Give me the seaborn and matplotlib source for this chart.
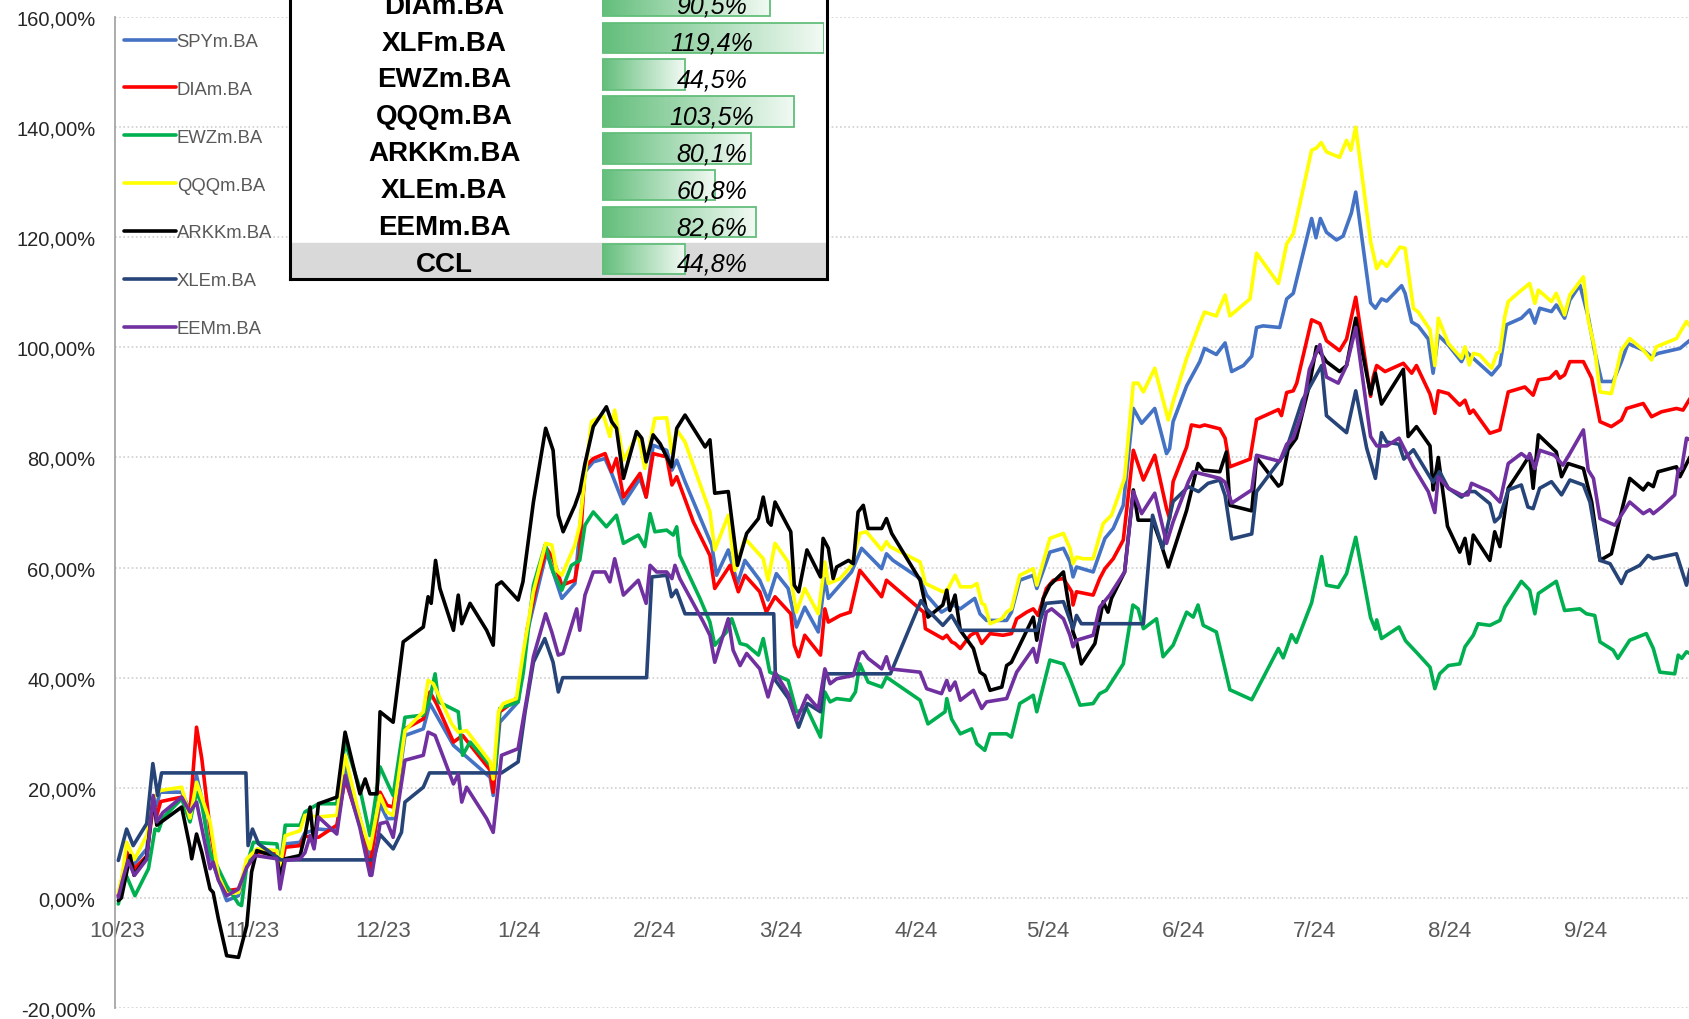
import numpy as np
import pandas as pd
import seaborn as sns
import matplotlib
matplotlib.use("Agg")
import matplotlib.pyplot as plt
import matplotlib.dates as mdates
from matplotlib.lines import Line2D
from matplotlib.colors import LinearSegmentedColormap
from matplotlib.ticker import FuncFormatter, MultipleLocator
from matplotlib.transforms import blended_transform_factory

# rendimiento acumulado (%) desde el 1/10/2023, dias desde esa fecha
start = pd.Timestamp("2023-10-01")

spy_days = [0.3, 1.2, 2.2, 3.7, 6.8, 8.3, 9.1, 9.8, 14.8, 16.7,
            18.2, 19.4, 21.3, 23.2, 25.1, 27.8, 29.7, 32, 36.6, 37.3,
            38.5, 41.9, 43, 46.1, 50.3, 52.2, 55.6, 57.9, 60.2, 61.8,
            63.2, 65.9, 70.1, 71.6, 77, 85.4, 86.1, 87.6, 91.8, 93.9,
            98.3, 101.8, 104.8, 107.1, 109, 111.7, 113.2, 115.9, 119.7, 121.1,
            122.7, 125.8, 127, 128.1, 130, 136.1, 137.2, 139.9, 142, 143.7,
            147.1, 149, 150.9, 153.6, 155.5, 157.4, 160.5, 162, 162.8, 168.1,
            170.4, 175, 176.1, 177.6, 183.8, 185.3, 188.7, 191.4, 193, 196.3,
            197.5, 199, 203.6, 204.7, 206.6, 209.7, 210.5, 213.5, 216.6, 218.1,
            218.8, 219.6, 223.4, 226.1, 228, 230.3, 232.6, 234.5, 237.5, 240.2,
            240.9, 241.7, 244.8, 247.8, 248.9, 251.6, 253.6, 255.1, 257.8, 259.7,
            260.8, 262.3, 266.1, 267.7, 269.2, 273.4, 274.4, 275.4, 276.8, 279.1,
            280.6, 282.5, 283.5, 286.9, 288, 289.4, 290.6, 294, 294.8, 296.3,
            297.8, 300.1, 301.2, 302.4, 304.7, 307.7, 308.8, 310.4, 314.6, 316.5,
            318, 321.4, 323.3, 324.5, 325.6, 328.3, 329.4, 331.3, 332.5, 334.8,
            336.7, 338.2, 339.8, 342.4, 344.3, 345.8, 349.3, 351.2, 352.7, 357.7,
            360]
spy_vals = [0.4, 3.6, 8.3, 5.9, 8.9, 17.4, 16.8, 19.2, 19.2, 15.9,
            22.2, 18, 7.7, 3.5, -0.5, 0.4, 5.9, 8.6, 8, 4.7,
            9.8, 10.1, 11.8, 12.5, 12.2, 24, 14.4, 7.1, 17, 14.4,
            14.4, 29.5, 30.7, 35.3, 27.7, 21.9, 18.6, 31.9, 35.6, 48.3,
            62.8, 54.4, 57.1, 77.4, 79.2, 79.8, 77.1, 71.6, 76.2, 72.8,
            82.2, 81.3, 77.7, 79.5, 75.6, 64.1, 58.6, 63.2, 57.1, 61.3,
            57.7, 54.1, 58.9, 56.2, 49.2, 52.8, 48.3, 58, 54.4, 59.2,
            63.5, 59.8, 62.5, 61.3, 58, 55, 51.9, 53.2, 52.5, 54.4,
            51.6, 50.4, 50.4, 51.9, 57.7, 58.6, 56.2, 62.8, 63.5, 61,
            58.3, 60.1, 59.2, 65.3, 67.1, 71.3, 88.9, 86.2, 88.9, 80.7,
            81.6, 86.5, 93, 97.4, 99.8, 98.7, 100.8, 95.6, 96.7, 98.4,
            103.6, 103.9, 103.6, 108.8, 109.8, 123.4, 119.9, 123.4, 120.9, 119.5,
            120.2, 124.4, 128.2, 108.1, 107.1, 108.8, 108.4, 111.2, 109.8, 104.6,
            103.9, 101.5, 95.3, 102.2, 100.4, 97.4, 99.2, 98, 95, 96.8,
            104.1, 105.3, 106.8, 104.4, 107.1, 106.5, 107.7, 105.3, 108.6, 111.3,
            105.6, 99.2, 93.8, 93.8, 97.4, 100.7, 99.5, 98.3, 98.9, 99.8,
            101.3]

dia_days = [0.3, 1.2, 2.2, 4, 6.8, 8.3, 9.1, 10, 14.8, 16.7,
            18.2, 19.4, 21.3, 23.2, 25.1, 27.8, 29.7, 32, 36.6, 37.3,
            38.5, 41.9, 43, 46.1, 50.3, 52.2, 55.6, 57.9, 60.2, 61.8,
            63.2, 65.9, 70.1, 71.6, 73.1, 77, 79.1, 85.4, 86.1, 87.6,
            90.7, 91.8, 93.9, 96, 98.3, 99.8, 101.8, 104.8, 105.9, 107.1,
            109, 111.7, 113.2, 114.3, 115.9, 119.7, 121.1, 122.7, 125.8, 127,
            128.1, 131.9, 135.7, 136.8, 140.3, 142.2, 143.7, 147.1, 148.6, 150.6,
            154.2, 155, 156, 157.4, 161, 162, 162.8, 165.5, 167.8, 170,
            175, 176.1, 184.6, 185, 189, 189.9, 191, 191.8, 193, 195.3,
            196.7, 197.9, 199.8, 202.8, 204.7, 205.9, 208.2, 209.7, 210.8, 212.7,
            214.3, 216.6, 218.5, 218.8, 219.6, 223.4, 224.9, 226.1, 228, 230.3,
            231.4, 232.6, 234.9, 237.5, 240.2, 240.9, 241.7, 244.8, 245.9, 247.8,
            248.9, 252.4, 253.6, 254.7, 259.3, 260.8, 265.8, 266.5, 267.7, 269.2,
            270, 273.4, 275.3, 276.8, 279.8, 281.4, 283.5, 286.9, 287.5, 288.3,
            290.2, 294.4, 296.3, 297.4, 300.5, 301.6, 302.4, 304.7, 307.3, 308.5,
            309.6, 310.4, 314.2, 316.5, 318.4, 322.2, 324.1, 325.3, 327.9, 329.4,
            330.2, 331.3, 332.5, 335.6, 337.5, 339.4, 342, 344.3, 345.5, 349.3,
            351.2, 353.5, 356.9, 358.4, 360]
dia_vals = [0.4, 3.6, 8.3, 5.3, 7.6, 16.8, 15, 17.5, 18.3, 15.6,
            31, 25.3, 12.5, 3.5, 1.3, 1.6, 5.6, 8.3, 8, 4.7,
            9.2, 9.5, 11.2, 11, 13.2, 21.6, 13.2, 5.3, 19.2, 16.8,
            16.5, 30.7, 32.5, 37.4, 35.3, 28.3, 29.5, 23.2, 19.2, 33.8,
            35.6, 36.8, 48.9, 56.8, 63.5, 61.6, 56.8, 57.7, 62.8, 78.3,
            79.8, 80.7, 77.4, 79.8, 72.8, 77.1, 72.8, 80.7, 80.1, 75,
            76.5, 68.3, 62.2, 56.2, 60.4, 55.6, 58.6, 55.6, 51.9, 54.7,
            51.6, 45.9, 43.8, 47.7, 44.1, 52.5, 50.1, 51.3, 51.9, 59.5,
            54.7, 57.7, 51.9, 48.9, 47.1, 47.7, 46.5, 46.2, 45.3, 47.7,
            48.3, 46.2, 48, 47.7, 48, 50.7, 51.9, 52.5, 51.3, 56.2,
            57.7, 58, 55.6, 53.2, 55.6, 55, 58, 59.8, 61.6, 65,
            72.8, 81.3, 75.9, 80.4, 70.7, 68.9, 75.6, 81.9, 85.9, 85.6,
            85.9, 85.2, 83.5, 78.3, 79.7, 86.9, 88.7, 87.6, 91.8, 92.1,
            93.5, 105, 104.3, 101.2, 99.4, 101.5, 109.1, 91.1, 94.6, 96.7,
            95.6, 97.1, 95.3, 96.7, 91.5, 88, 92.1, 91.6, 89.5, 90.4,
            88, 88.6, 84.4, 85, 91.9, 92.8, 91.3, 94.1, 94.4, 95.6,
            94.4, 95, 97.4, 97.4, 94.4, 86.5, 85.6, 86.8, 88.9, 89.8,
            87.4, 88.3, 88.9, 88.6, 90.7]

ewz_days = [0.3, 1.9, 4.1, 7.2, 8.7, 9.5, 10.5, 14.8, 16.7, 18.2,
            19.4, 21.3, 22.5, 23.2, 25.1, 27.8, 28.5, 29.7, 31.2, 36.6,
            37.3, 38.5, 41.9, 43, 46.1, 50.3, 52.2, 55.6, 57.9, 60.2,
            61.8, 63.2, 65.9, 70.1, 71.6, 72.8, 73.6, 78.1, 79.1, 80.8,
            85.4, 86.5, 87.6, 91.8, 93, 95.3, 98, 99.8, 101.8, 104,
            105.9, 107.1, 109, 112, 114.3, 115.9, 119.3, 120.8, 122, 123.1,
            125.8, 127.3, 128.1, 128.8, 133.4, 135.7, 136.8, 139.5, 140.7, 142.6,
            144.1, 146.8, 147.9, 149.4, 153.6, 155.5, 157.9, 161, 162, 163.2,
            164.7, 167.8, 169, 170, 171.9, 175, 176.1, 183.8, 185.6, 189.5,
            189.9, 191, 193, 195.6, 196.8, 198.6, 199.8, 203.6, 204.7, 206.6,
            209.7, 210.5, 213.5, 216.6, 218.1, 220.4, 223.4, 224.9, 226.4, 230.3,
            232.5, 233.7, 234.9, 237.9, 239.4, 241.7, 244.8, 246.3, 247.4, 248.6,
            251.6, 254.7, 259.7, 265.8, 266.9, 268.8, 269.9, 273.4, 275.7, 276.8,
            279.5, 281.4, 283.5, 286.9, 288, 288.3, 289.4, 293.4, 294.9, 297.4,
            300.5, 301.6, 302.7, 304.7, 307.3, 308.5, 310.4, 311.5, 314.2, 316.5,
            317.6, 321.4, 323.3, 324.5, 325.3, 329.4, 331.3, 334.8, 336.3, 338.2,
            339.4, 342.4, 343.5, 346.2, 350, 351.6, 353.1, 356.5, 357.3, 358.1,
            359.2, 360]
ewz_vals = [-1.1, 4.5, 0.4, 5.3, 12.5, 12.2, 14.5, 18, 13.8, 19.2,
            17, 8.3, 6.5, 5.3, 2.2, -1.1, -1.4, 5.9, 10.1, 9.8,
            5.3, 13.2, 13.2, 15.6, 17.1, 17.1, 28.3, 19.8, 11.3, 23.8,
            21, 18.6, 32.8, 33.2, 36.2, 40.7, 35.6, 33.8, 25.9, 28.3,
            24.1, 22.8, 34.4, 35.6, 41, 56.8, 64.1, 59.2, 55.9, 60.4,
            61.3, 67.7, 70.1, 67.4, 69.5, 64.4, 65.9, 63.8, 69.8, 66.5,
            66.8, 65.9, 67.4, 62.2, 54.4, 50.1, 45.9, 48.3, 50.7, 46.2,
            45.9, 44.1, 47.1, 41, 39.5, 33.8, 34.4, 29.2, 37.4, 35.6,
            36.2, 35.9, 37.4, 42.5, 39.2, 38.3, 40.1, 35.9, 31.6, 33.8,
            36.2, 32.5, 29.8, 30.7, 28, 26.8, 29.8, 29.8, 29.2, 35.3,
            36.8, 33.8, 43.2, 42.5, 39.8, 35, 35.3, 37.1, 37.7, 42.5,
            53.2, 52.5, 48.9, 50.7, 43.8, 45.9, 51.9, 51, 53.2, 49.5,
            48.3, 37.8, 36, 45.3, 43.6, 47.8, 46.4, 53.6, 62, 56.8,
            56.4, 58.9, 65.5, 50.9, 48.8, 50.5, 47.1, 49.2, 46.7, 44.6,
            41.9, 38, 40.7, 42.2, 42.5, 45.6, 47.7, 49.8, 49.5, 50.4,
            52.8, 57.5, 55.9, 51.6, 55.3, 57.5, 52.2, 52.5, 51.6, 51.3,
            46.5, 45, 43.5, 46.8, 48, 45.3, 41, 40.7, 44.1, 43.5,
            44.7, 44.4]

qqq_days = [0.3, 1.2, 2.2, 4, 6.8, 8.3, 9.8, 14.8, 16.7, 18.2,
            21.3, 23.2, 25.1, 27.8, 29.7, 32, 36.6, 37.3, 38.5, 41.9,
            43, 46.1, 50.3, 52.2, 55.6, 57.9, 60.2, 61.8, 63.2, 65.9,
            70.1, 71.2, 72.4, 76.6, 78.1, 80, 85.4, 86.1, 87.3, 88.4,
            91.4, 93, 95.3, 98.1, 99.5, 100.6, 101.8, 104.8, 105.9, 107.1,
            108.6, 111.3, 112.8, 113.9, 115.9, 119.3, 120.8, 123.1, 125.8, 127,
            128.1, 130, 135.7, 136.8, 139.9, 141.4, 143.7, 147.9, 149, 150.6,
            153.6, 155.5, 157.4, 160.5, 162, 162.8, 165.5, 168.1, 170, 171.5,
            175, 176.1, 176.9, 183.8, 185, 189, 190.1, 191.8, 193, 195.6,
            196.8, 197.9, 198.6, 199.8, 202.5, 203.6, 204.7, 206.6, 209.7, 210.5,
            213.5, 216.6, 218.1, 218.8, 219.6, 221.1, 223.4, 225.7, 227.6, 230.6,
            232.6, 233.7, 234.9, 237.5, 240.6, 241.7, 244.8, 247.8, 248.9, 251.6,
            253.6, 254.7, 259.3, 260.8, 265.8, 267.7, 269.2, 273.4, 274.5, 275.6,
            276.8, 279.8, 281.4, 282.4, 283.5, 286.9, 288.3, 289.4, 290.6, 293.6,
            294.8, 296.7, 297.8, 300.5, 301.6, 302.4, 304.7, 307.7, 308.5, 309.5,
            310.4, 311.9, 314.6, 315.8, 316.5, 317.6, 318.4, 321, 323.3, 324.5,
            325.3, 328.3, 329.4, 331.3, 332.5, 335.6, 336.7, 338.2, 339.4, 342,
            344.3, 346.2, 349.3, 351.2, 352.3, 356.9, 359.2, 360]
qqq_vals = [1, 4, 10.1, 7, 11.3, 18, 19.5, 20.1, 14.5, 21,
            13.8, 4, 0.7, 1, 7.1, 8.9, 8.6, 5.6, 11.3, 12.2,
            15, 14.7, 15, 25.9, 14.4, 8.9, 18.6, 15.6, 15, 30.4,
            33.8, 39.5, 38.9, 31.6, 30.1, 30.4, 24.7, 21.6, 33.8, 35.3,
            36.2, 44.7, 55.6, 64.4, 64.1, 59.5, 58.6, 64.1, 67.7, 76.8,
            86.5, 87.7, 83.8, 88.6, 79.5, 84.4, 78, 87.1, 87.2, 80.7,
            85, 82.8, 70.1, 63.2, 69.5, 59.5, 65.3, 61.6, 57.7, 64.4,
            61, 51.9, 56.2, 51.6, 61, 57.1, 58, 60.4, 66.2, 66.5,
            63.2, 64.7, 63.8, 61, 57.1, 55.6, 56, 58.6, 56.5, 56.5,
            57.1, 53.5, 53.2, 49.8, 50.7, 51.9, 52.5, 58.6, 59.8, 56.8,
            65.3, 66.2, 63.5, 60.7, 61.9, 61.6, 61.6, 68, 69.5, 76.2,
            93.5, 93.5, 91.9, 96.2, 86.8, 90.1, 98, 104.3, 106.4, 105.7,
            109.5, 105.7, 108.8, 117.1, 111.6, 118.8, 120.6, 135.8, 136.2, 137.2,
            135.5, 134.5, 137.6, 135.8, 140, 119.2, 114.3, 115.7, 114.7, 118.2,
            118, 107.1, 106.4, 103.2, 96.7, 105.3, 100.7, 98, 100.1, 96.8,
            98.9, 98.6, 96.2, 98.9, 99.2, 105.6, 108.3, 110.1, 111.6, 108,
            110.4, 108.3, 109.8, 105.9, 109.5, 112.8, 105, 99.8, 91.9, 91.6,
            99.5, 101.6, 99.5, 97.7, 100.1, 101.6, 104.7, 103.8]

arkk_days = [0.3, 1, 3, 3.9, 6.8, 8.3, 9.1, 14.8, 16.7, 17.1,
             18.2, 19.4, 21.3, 22, 23.2, 25.1, 27.8, 29.7, 30.8, 32,
             36.6, 37.3, 38.5, 41.9, 43, 44.2, 45.1, 46.1, 50.3, 52.2,
             55.6, 56.8, 57.9, 59.5, 60.2, 63.2, 65.5, 70.1, 71.2, 71.9,
             72.9, 73.9, 77, 78.1, 78.9, 80.8, 84.6, 86.1, 86.9, 88,
             91.8, 92.9, 95.3, 98.1, 99.8, 101, 102.1, 104.8, 105.9, 107.1,
             109, 112, 113.2, 114.3, 115.9, 118.9, 120.1, 121.1, 122.7, 124.3,
             126.9, 128.1, 130, 134.6, 135.7, 136.8, 139.9, 142, 144.1, 146.8,
             147.9, 149, 149.7, 150.6, 154.2, 155, 156, 157.9, 161, 161.6,
             162.8, 163.9, 164.7, 167.4, 168.5, 169.6, 170.8, 171.9, 175, 176.1,
             177.3, 183.8, 185.6, 189, 189.9, 190.6, 191.8, 193, 196, 197.5,
             198.6, 199.8, 202.5, 203.6, 204.7, 209.7, 210.5, 212, 213.5, 216.6,
             218.8, 219.6, 220.7, 223.8, 225.7, 226.8, 227.6, 230.6, 232.6, 233.7,
             237, 238.9, 240.6, 244.8, 247.4, 248.6, 252.4, 253.9, 254.7, 259.7,
             260.8, 265.8, 266.5, 268, 269.9, 272.9, 274.5, 276.8, 279.8, 281.4,
             283.5, 286.9, 288, 289.4, 294.4, 295.5, 297.4, 300.5, 301.2, 302.4,
             304.5, 307.3, 308.5, 309.5, 310.4, 314.2, 315.3, 316.5, 318.4, 321.4,
             323.3, 324.1, 325.3, 329.4, 330.6, 332.1, 335.6, 337.5, 339.4, 342,
             344.3, 346.2, 349.3, 350.4, 351.6, 352.7, 356.9, 357.7, 360]
arkk_vals = [-0.5, 0, 7.7, 4.1, 7.5, 18.3, 13.2, 16.5, 9.2, 7.1,
             11.6, 8.3, 1.6, 1, -3.8, -10.5, -10.8, -5, 4.7, 8.6,
             7.4, 4.1, 7.1, 7.7, 11.3, 16.5, 9.5, 17.1, 18.3, 30.1,
             18.9, 21.6, 18.9, 18.9, 33.8, 31.9, 46.5, 49.2, 54.7, 53.5,
             61.3, 56.2, 48.6, 55, 49.8, 53.5, 48.6, 45.9, 56.8, 57.4,
             54.1, 57.4, 71.9, 85.3, 81.3, 69.5, 66.5, 71.3, 73.8, 78.9,
             85.6, 89.2, 86.5, 85.3, 76.2, 84.7, 83.5, 79.2, 84.1, 82.5,
             78.3, 85.3, 87.7, 81.9, 83.2, 73.5, 73.8, 60.4, 66.2, 68.9,
             72.8, 68.3, 67.7, 71.9, 66.5, 56.8, 55.6, 63.2, 58.3, 65.3,
             63.5, 58, 60.1, 61.3, 60.7, 70.1, 71.3, 67.1, 67.1, 68.9,
             66.2, 57.7, 51, 53.2, 55.9, 52.2, 55, 48.6, 45.3, 41,
             40.4, 37.7, 38.3, 42.2, 42.8, 51, 46.8, 54.4, 56.8, 59.2,
             48.3, 46.5, 42.5, 46.2, 53.8, 51.9, 54.4, 59.2, 74.1, 68.6,
             68.6, 64.4, 60.1, 70.4, 78.9, 77.7, 77.4, 81, 71.3, 70.3,
             80, 74.8, 75.2, 81.4, 83.5, 93.2, 100.1, 97.4, 95.6, 96.7,
             105.3, 91.5, 95.3, 89.7, 96, 83.8, 85.6, 82.1, 74.1, 80,
             67.5, 62.8, 65.3, 60.7, 65.9, 61.3, 66.5, 63.8, 74.4, 78,
             80.4, 74.4, 84.1, 81, 76.5, 78.9, 78, 71.9, 61.3, 62.5,
             70.1, 76.2, 74.1, 75.3, 74.7, 77.4, 78.3, 76.5, 80.1]

xle_days = [0.3, 2.2, 3.7, 6.8, 8.2, 9.3, 10.2, 29.5, 30, 31,
            32.4, 37.5, 58.7, 60.2, 63.2, 65.1, 65.9, 70.1, 71.5, 88,
            91.8, 93.4, 95.3, 97.9, 99.8, 101, 102, 121.2, 122.4, 125.8,
            126.9, 128, 130, 150.3, 150.7, 153.7, 156, 158, 161, 162,
            177, 184, 185.3, 189, 191, 193, 210.5, 212.6, 216.6, 218.8,
            219.6, 220.7, 234.9, 237, 239.3, 241.7, 245.2, 247.5, 249.7, 252.4,
            253.6, 255.1, 259.7, 260.8, 267.3, 271.3, 275.7, 276.8, 281.4, 283.5,
            286, 288, 289.4, 290.6, 293.4, 294.5, 296.7, 301.2, 302.7, 304.7,
            307.7, 309.2, 310.8, 314.2, 315.3, 316.5, 318.4, 321.4, 322.9, 324.1,
            325.6, 328.3, 330.6, 332.5, 335.6, 337.1, 339.4, 341.7, 344.3, 345.5,
            348.5, 350.4, 351.6, 356.9, 359.2, 360]
xle_vals = [6.8, 12.5, 9.5, 13.5, 24.4, 18.6, 22.7, 22.7, 9.5, 12.5,
            9.8, 6.9, 6.9, 11.5, 8.9, 11.9, 17.4, 20.1, 22.7, 22.7,
            24.7, 33.8, 42.8, 47.1, 42.8, 37.4, 40, 40, 58.3, 58.6,
            54.7, 55.9, 51.6, 51.6, 39.5, 36.2, 31, 35.3, 33.8, 40.7,
            40.7, 54, 52.5, 49.5, 51.3, 48.6, 48.6, 53.5, 53.8, 48.9,
            51.3, 49.8, 49.8, 69.5, 63.5, 72, 74.7, 73.8, 75.3, 75.9,
            73.1, 65.2, 66.1, 73.8, 80.7, 90.4, 96.7, 87.6, 84.5, 92.1,
            81.7, 76.2, 84.5, 82.8, 82.4, 79.7, 81.4, 75.5, 77.4, 74.4,
            72.8, 73.8, 73.8, 71.6, 68.3, 69.2, 74.1, 75, 71, 70.7,
            74.4, 75.6, 73.2, 75.9, 75, 71.9, 61.3, 60.7, 57.1, 59.2,
            60.4, 62.2, 61.6, 62.5, 56.8, 59.8]

eem_days = [0.3, 1.2, 2.5, 4, 6.8, 8.3, 9.1, 10.5, 14.8, 16.7,
            18.2, 21.3, 22, 23.2, 25.1, 27.8, 29.7, 31.6, 36.6, 37.3,
            38.5, 41.9, 43, 44.2, 45.1, 46.1, 50.3, 52.2, 55.6, 57.9,
            58.3, 60.2, 61.8, 63.2, 65.9, 70.1, 71.2, 72.8, 77, 78.1,
            78.9, 80, 84.6, 86.1, 88, 91.8, 93.9, 95.3, 98.1, 99.5,
            101, 102.1, 105.2, 105.9, 107.1, 109, 111.7, 112.8, 113.9, 115.9,
            119.3, 121.1, 122, 123.5, 125.8, 127, 127.7, 128.8, 134.2, 135.7,
            136.8, 139.9, 141, 142.6, 144.1, 147.1, 149, 150.6, 153.6, 155.5,
            157.9, 160.5, 162, 163.2, 164.7, 168.5, 170, 170.8, 171.9, 175,
            176.1, 176.9, 183.8, 185.3, 188.7, 189.9, 190.6, 191.8, 193, 196,
            197.9, 199, 203.6, 205.9, 209.7, 210.5, 212.7, 213.9, 216.6, 218.1,
            218.8, 219.6, 223.4, 224.9, 227.2, 230.6, 232.6, 234.5, 237.5, 240.2,
            241.7, 245.2, 246.3, 249.4, 252.4, 253.6, 255.1, 259.7, 260.8, 266.1,
            267.7, 269.2, 271.3, 272.9, 275.3, 276.8, 279.5, 281.4, 283.5, 286.9,
            288.3, 290.6, 293.4, 296.7, 300.1, 301.6, 302.4, 304.7, 307.7, 309.2,
            310, 314.2, 316.5, 318.4, 321.4, 322.9, 323.3, 324.5, 325.6, 329,
            330.9, 332.5, 335.6, 336.7, 337.9, 339.4, 342.8, 346.2, 349.3, 350.8,
            351.6, 353.5, 356.5, 357.3, 358.1, 359.2, 360]
eem_vals = [0.1, 3, 6.8, 4.1, 7, 18.6, 13.8, 15.5, 18.3, 15.6,
            17.4, 5.3, 6.5, 3.2, 0.4, 1.6, 5.6, 7.7, 7.1, 1.6,
            6.8, 7.1, 8.2, 11.3, 8.9, 14.7, 11.6, 22.2, 12.7, 4.1,
            4.1, 13.5, 13.8, 11, 25, 25.9, 30.1, 29.5, 20.7, 22.5,
            17.4, 20.1, 14.4, 11.9, 25.9, 27.1, 36.8, 43.8, 51.6, 48.3,
            44.1, 44.4, 52.5, 48.6, 55, 59.2, 59.2, 57.4, 61.6, 55,
            57.7, 53.5, 60.4, 59.2, 59.2, 58, 60.4, 58, 50.1, 47.7,
            42.8, 50.7, 45, 42.2, 44.4, 41.6, 36.5, 41, 37.1, 32.2,
            36.8, 34.4, 41.6, 38.9, 39.8, 40.4, 44.4, 44.7, 43.5, 41.6,
            43.8, 41.6, 41, 38, 37.1, 39.5, 37.7, 39.2, 35.9, 37.7,
            34.4, 35.6, 36.2, 41, 45.3, 42.8, 51.9, 52.5, 50.7, 47.7,
            45.6, 46.8, 47.7, 52.8, 55, 59.2, 73.8, 69.8, 73.5, 64.4,
            68.3, 75.6, 77.4, 76.8, 76.2, 75.5, 71.7, 74.1, 80.4, 79.3,
            82.4, 83.5, 88.3, 96, 100.5, 94.6, 93.5, 96.7, 103.6, 83.8,
            82.1, 82.1, 83.5, 78.3, 73.8, 70, 76.5, 74.4, 73.2, 73.2,
            75.3, 73.8, 71.9, 78.9, 80.7, 79.8, 80.7, 78, 81.3, 80.4,
            78.6, 80.7, 85, 77.7, 76.2, 68.9, 67.7, 71.9, 69.8, 70.5,
            69.8, 71, 73.2, 77.7, 78, 83.5, 83.2]

tickers = ["SPYm.BA", "DIAm.BA", "EWZm.BA", "QQQm.BA", "ARKKm.BA", "XLEm.BA", "EEMm.BA"]
colors = ["#4472C4", "#FF0000", "#00B050", "#FFFF00", "#000000", "#264478", "#7030A0"]

# tabla de rendimientos (parte visible)
table_names = ["DIAm.BA", "XLFm.BA", "EWZm.BA", "QQQm.BA", "ARKKm.BA", "XLEm.BA", "EEMm.BA", "CCL"]
table_vals = [90.5, 119.4, 44.5, 103.5, 80.1, 60.8, 82.6, 44.8]

series = [spy_days, spy_vals, dia_days, dia_vals, ewz_days, ewz_vals, qqq_days, qqq_vals,
          arkk_days, arkk_vals, xle_days, xle_vals, eem_days, eem_vals]
frames = []
for i, name in enumerate(tickers):
    d, v = series[2 * i], series[2 * i + 1]
    if len(d) != len(v):
        raise ValueError(f"{name}: {len(d)} dias vs {len(v)} valores")
    frames.append(pd.DataFrame({"fecha": start + pd.to_timedelta(d, unit="D"),
                                "rend": v, "ticker": name}))
df = pd.concat(frames, ignore_index=True)

sns.set_theme(style="white")
plt.rcParams["font.family"] = ["Liberation Sans", "DejaVu Sans"]

W, H = 1690, 1020
fig = plt.figure(figsize=(W / 100, H / 100), dpi=100)
fig.patch.set_facecolor("white")

ax = fig.add_axes([115 / W, 11 / H, (W - 115) / W, 991 / H])
sns.lineplot(data=df, x="fecha", y="rend", hue="ticker", hue_order=tickers,
             palette=dict(zip(tickers, colors)), sort=False, estimator=None,
             linewidth=2.6, legend=False, ax=ax)

ax.set_xlim(start - pd.Timedelta(days=0.46), start + pd.Timedelta(days=360))
ax.set_ylim(-20, 160)
ax.yaxis.set_major_locator(MultipleLocator(20))
ax.yaxis.set_major_formatter(FuncFormatter(lambda v, p: f"{v:.2f}%".replace(".", ",")))
ax.xaxis.set_major_locator(mdates.MonthLocator())
ax.xaxis.set_major_formatter(FuncFormatter(
    lambda x, p: f"{mdates.num2date(x).month}/{mdates.num2date(x):%y}"))
ax.set_xlabel("")
ax.set_ylabel("")
ax.grid(axis="y", color="#D0D0D0", linestyle=(0, (1, 1.5)), linewidth=1.2)
ax.grid(axis="x", visible=False)
ax.set_axisbelow(True)
ax.spines["top"].set_visible(False)
ax.spines["right"].set_visible(False)
ax.spines["left"].set_color("#A6A6A6")
ax.spines["left"].set_linewidth(1.3)
ax.spines["bottom"].set_position(("data", 0))
ax.spines["bottom"].set_color("none")
ax.tick_params(axis="y", length=0, pad=14, labelsize=14.5, labelcolor="#262626")
ax.tick_params(axis="x", length=0, pad=16, labelsize=16, labelcolor="#595959")

handles = [Line2D([0], [0], color=c, linewidth=2.6) for c in colors]
ax.legend(handles, tickers, loc="upper left", bbox_to_anchor=(124 / W, 1 - 34 / H),
          bbox_transform=fig.transFigure, frameon=False, fontsize=13.3,
          labelcolor="#595959", handlelength=2.8, handletextpad=0.05,
          labelspacing=1.67, borderpad=0, borderaxespad=0)

# tabla
row_h = 36.9
tab_bottom = 280.4
n_rows = len(table_names) + 1
tab = fig.add_axes([290 / W, 1 - tab_bottom / H, 537 / W, n_rows * row_h / H])
tab.set_xlim(0, 1)
tab.set_ylim(len(table_names) - 0.5, -1.5)
tab.set_xticks([])
tab.set_yticks([])
tab.set_facecolor("white")
for s in tab.spines.values():
    s.set_color("black")
    s.set_linewidth(2.2)
tab.axhspan(len(table_names) - 1.5, len(table_names) - 0.5, color="#D9D9D9", zorder=0)
for k, name in enumerate(table_names):
    tab.text(0.287, k + 0.08, name, ha="center", va="center", fontsize=20,
             fontweight="bold", color="black")

bar_ax = fig.add_axes([602 / W, 1 - tab_bottom / H, 222 / W, n_rows * row_h / H])
bar_ax.patch.set_alpha(0)
bar_ax.axis("off")
bars = bar_ax.barh(np.arange(len(table_vals)) - 0.05, table_vals, height=0.82,
                   color="none", edgecolor="#63BE7B", linewidth=1.3, zorder=3)
cmap = LinearSegmentedColormap.from_list("bar", ["#63BE7B", "#F2FAF4"])
grad = np.linspace(0, 1, 256).reshape(1, -1)
for b in bars:
    x0, y0, w, h = b.get_x(), b.get_y(), b.get_width(), b.get_height()
    im = bar_ax.imshow(grad, cmap=cmap, aspect="auto", extent=(x0, x0 + w, y0 + h, y0),
                       interpolation="bilinear", zorder=2)
    im.set_clip_path(b)
bar_ax.set_xlim(0, max(table_vals))
bar_ax.set_ylim(len(table_names) - 0.5, -1.5)
tr = blended_transform_factory(bar_ax.transAxes, bar_ax.transData)
for k, v in enumerate(table_vals):
    bar_ax.text(0.495, k + 0.08, f"{v:.1f}%".replace(".", ","), transform=tr, ha="center",
                va="center", fontsize=18, style="italic", color="black", zorder=5)

fig.savefig("out.png", dpi=100)
